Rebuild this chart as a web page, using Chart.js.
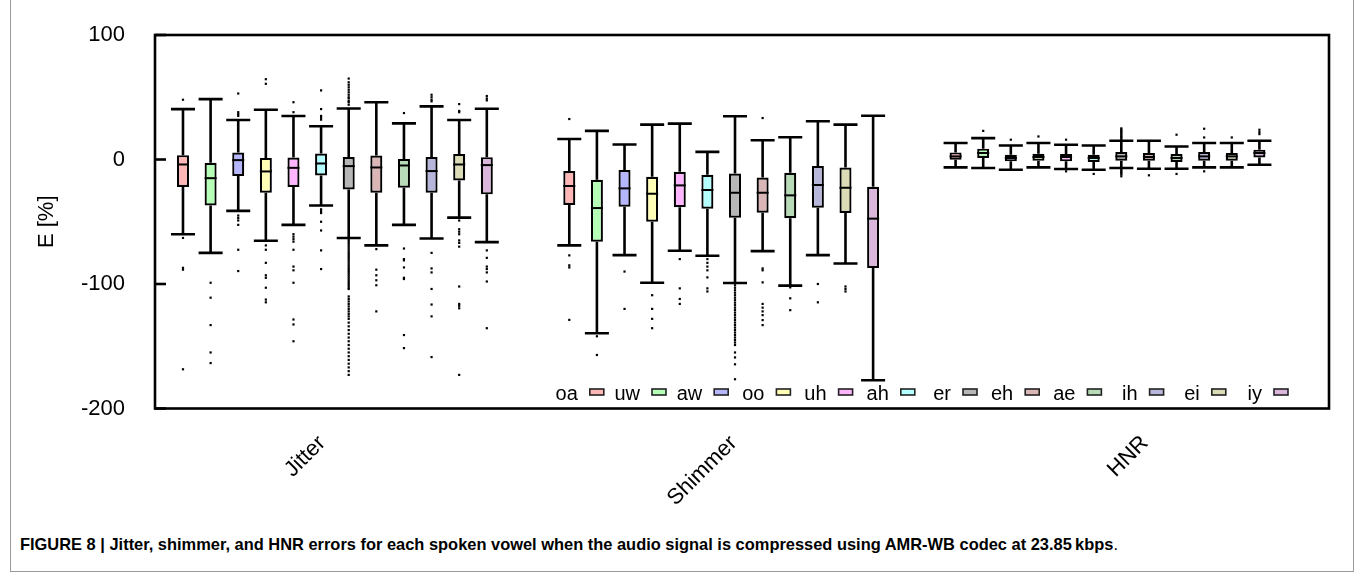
<!DOCTYPE html>
<html><head><meta charset="utf-8">
<script src="https://cdn.jsdelivr.net/npm/chart.js@4.4.0/dist/chart.umd.min.js"></script>
<style>
html,body{margin:0;padding:0;background:#fff;}
#wrap{position:relative;width:1355px;height:572px;overflow:hidden;background:#fff;}
#frame{position:absolute;left:10px;top:-1px;width:1344px;height:573px;border:1px solid #9a9a9a;box-sizing:border-box;}
#c{position:absolute;left:0;top:0;}
#cap{position:absolute;left:20px;top:535px;font-family:'Liberation Sans Narrow','Liberation Sans',Arial,sans-serif;font-size:17px;line-height:20px;white-space:nowrap;transform-origin:0 0;color:#000;}
</style></head>
<body><div id="wrap"><div id="frame"></div><canvas id="c" width="1355" height="525"></canvas>
<div id="cap"><b>FIGURE 8 | Jitter, shimmer, and HNR errors for each spoken vowel when the audio signal is compressed using AMR-WB codec at 23.85&#8201;kbps</b>.</div></div>
<script>
const groups = ['Jitter', 'Shimmer', 'HNR'];
const vowels = ['oa','uw','aw','oo','uh','ah','er','eh','ae','ih','ei','iy'];
const yTicks = [-200, -100, 0, 100];

// [lower whisker, q1, median, q3, upper whisker] per vowel
const jitterStats = [
  [-60, -22, -4, 3.5, 40.5],
  [-75, -37, -15, -2.7, 48.5],
  [-41.3, -13.3, -0.5, 5.6, 31.7],
  [-65.3, -26.7, -9.6, 1.3, 40],
  [-52.5, -22, -6.7, 1.6, 35],
  [-37, -12.8, -3.2, 4.8, 26.7],
  [-63, -24, -5.3, 2, 41],
  [-69, -26.7, -6.4, 3.2, 46],
  [-52.5, -22.7, -4.8, 0.5, 29],
  [-63.5, -26.7, -9.3, 2, 42.7],
  [-46.7, -16.8, -4, 4.5, 31.7],
  [-66.4, -28, -4.5, 1.9, 40.8]
];
const shimmerStats = [
  [-69, -36.5, -21.3, -9.3, 16.5],
  [-139.5, -66, -39, -16.3, 23],
  [-76.8, -37.9, -23.2, -8.5, 12],
  [-99, -50, -27.5, -13.9, 28],
  [-73.3, -38.4, -20.8, -9.9, 28.8],
  [-77.3, -39.5, -24.5, -12.3, 6.1],
  [-99.2, -46.7, -26.7, -11.2, 34.7],
  [-73.6, -42.7, -26.7, -14.4, 15.5],
  [-101.3, -47.2, -28.8, -10.7, 17.9],
  [-76.8, -38.7, -20.5, -5.3, 30.7],
  [-83.5, -42.9, -22.7, -6.4, 28],
  [-177.3, -87.2, -47.5, -21.9, 35.2]
];
const hnrStats = [
  [-6.3, -0.2, 2.5, 5.7, 13.2],
  [-6.8, 1.2, 5.2, 8.7, 17.2],
  [-8.2, -1.5, 1.2, 3.8, 11.3],
  [-6.3, -1, 2, 4.6, 13.2],
  [-7.6, -1.5, 2, 4.4, 11.9],
  [-8.2, -2, 1.2, 3.8, 11.3],
  [-6.8, -1, 2.5, 6, 15.1],
  [-7.4, -1, 2, 5.2, 15.1],
  [-7.4, -2, 1.2, 4.4, 10.5],
  [-6.3, -1, 2.5, 6, 13.2],
  [-6.3, -1, 2.5, 5.2, 13.2],
  [-4.2, 1.7, 5.2, 7.9, 15.1]
];

const jitterOutliers = [
  [48, -63, -87, -88.5, -168.5],
  [-99, -111, -133, -155, -163.5],
  [53, 38, 36.5, 35, -45, -47, -49, -52.5, -72.5, -89.6],
  [64.5, 60.8, -69, -72.5, -83, -93, -95, -103, -112.5, -114.7],
  [46, 38, -60, -62, -64, -66, -72.5, -86, -89, -99, -128.5, -132.5, -146],
  [55.5, 40.5, 35, 33.5, 32, -40, -41.5, -43, -50, -57, -73, -88],
  [44, 46, 47, 49, 50, 52, 54, 56, 58, 60, 62, 65,
   -64, -65.5, -67, -68.5, -70, -71.5, -73, -74.5, -76, -77.5, -79, -80.5, -82, -83.5, -85, -86.5,
   -88, -89.5, -91, -92.5, -94, -95.5, -97, -98.5, -100, -101.5, -103, -104,
   -110, -112, -114, -116, -118, -120, -122, -124, -126, -128, -131, -134, -137, -140, -143,
   -146, -149, -152, -155, -158, -161, -164, -167, -170, -173],
  [-72, -88.5, -93, -97, -101, -122],
  [37.3, -71.5, -80, -81, -86.7, -95, -96, -141, -151.5],
  [52, 50, 48, 46.7, -75, -87.5, -90.7, -104, -116.5, -126, -158.7],
  [44.5, 39, 38, -49, -56, -58, -60, -65, -67, -70, -102, -116, -117.5, -119.5, -173],
  [51, 49, 47.5, -73, -79, -86, -88, -90.7, -98, -135.5]
];
const shimmerOutliers = [
  [32.5, -77, -85, -86.7, -128.8],
  [-142, -157],
  [-90, -120],
  [-109, -120, -128, -135.5],
  [-80, -103.5, -112, -116],
  [-80, -83, -86, -89, -94.7, -103.5, -106],
  [-101, -103, -105, -107, -109, -111, -113, -115, -117, -119, -121, -123, -125, -127, -129,
   -131, -133, -135, -137, -139, -141, -143, -145, -147, -149, -155, -159, -164.5, -176.5],
  [33.3, -87.5, -89, -98.7, -116, -119, -122, -125, -129, -133],
  [-102.7, -111.5, -121],
  [-100, -114.7],
  [-102, -104, -106],
  []
];
const hnrOutliers = [
  [],
  [23],
  [15.9],
  [18.5],
  [15.9, -9.5],
  [-11.6],
  [16, 17, 18, 19, 20, 21, 22, 23, 24, 25, -8, -9, -10, -11, -12, -13.5],
  [-12.7],
  [19.9, -11.6],
  [24.7, 17.7, -9.5],
  [17.7],
  [20.4, 22, 23.9]
];

const statsByGroup = [jitterStats, shimmerStats, hnrStats];
const outliersByGroup = [jitterOutliers, shimmerOutliers, hnrOutliers];
const colors = ['#ffb6b6','#b6ffb6','#b6b6ff','#ffffb6','#ffb6ff','#b6ffff',
                '#b6b6b6','#dbb6b6','#b6dbb6','#b6b6db','#dbdbb6','#dbb6db'];

const FONT = "'Liberation Sans', Arial, Helvetica, sans-serif";

const datasets = vowels.map((v, i) => ({
  label: v,
  xAxisID: 'x',
  yAxisID: 'y',
  data: groups.map((g, j) => ({ x: j + 1, y: [statsByGroup[j][i][1], statsByGroup[j][i][3]] })),
  backgroundColor: colors[i],
  borderColor: '#000',
  borderWidth: 2.2,
  borderSkipped: false
}));

const boxPlugin = {
  id: 'boxExtras',
  beforeDatasetsDraw(chart) {
    const ctx = chart.ctx, y = chart.scales.y;
    ctx.save();
    ctx.strokeStyle = '#000';
    ctx.lineWidth = 2.6;
    ctx.lineCap = 'butt';
    chart.data.datasets.forEach((ds, i) => {
      const meta = chart.getDatasetMeta(i);
      meta.data.forEach((bar, j) => {
        const s = statsByGroup[j][i];
        const cw = bar.width * 2.0;
        const x = bar.x;
        ctx.beginPath();
        ctx.moveTo(x, y.getPixelForValue(s[4])); ctx.lineTo(x, y.getPixelForValue(s[3]));
        ctx.moveTo(x, y.getPixelForValue(s[1])); ctx.lineTo(x, y.getPixelForValue(s[0]));
        ctx.moveTo(x - cw / 2, y.getPixelForValue(s[4])); ctx.lineTo(x + cw / 2, y.getPixelForValue(s[4]));
        ctx.moveTo(x - cw / 2, y.getPixelForValue(s[0])); ctx.lineTo(x + cw / 2, y.getPixelForValue(s[0]));
        ctx.stroke();
        ctx.fillStyle = '#000';
        outliersByGroup[j][i].forEach(v => {
          const py = y.getPixelForValue(v);
          ctx.fillRect(x - 1.1, py - 1.1, 2.2, 2.2);
        });
      });
    });
    ctx.restore();
  },
  afterDatasetsDraw(chart) {
    const ctx = chart.ctx, y = chart.scales.y, a = chart.chartArea;
    ctx.save();
    ctx.strokeStyle = '#000';
    ctx.lineWidth = 2;
    chart.data.datasets.forEach((ds, i) => {
      const meta = chart.getDatasetMeta(i);
      meta.data.forEach((bar, j) => {
        const s = statsByGroup[j][i];
        const py = y.getPixelForValue(s[2]);
        ctx.beginPath();
        ctx.moveTo(bar.x - bar.width / 2, py); ctx.lineTo(bar.x + bar.width / 2, py);
        ctx.stroke();
      });
    });
    // frame
    ctx.lineWidth = 2.6;
    ctx.strokeRect(a.left, a.top, a.right - a.left, a.bottom - a.top);
    // inward ticks on the value axis
    yTicks.forEach(t => {
      const py = y.getPixelForValue(t);
      ctx.beginPath();
      ctx.moveTo(a.left, py); ctx.lineTo(a.left + 11, py);
      ctx.stroke();
    });
    // legend: label then sample box
    ctx.font = '20px ' + FONT;
    ctx.textAlign = 'right';
    ctx.textBaseline = 'middle';
    const step = 62.2;
    vowels.forEach((v, i) => {
      const boxRight = a.right - 41 - (vowels.length - 1 - i) * step;
      const boxLeft = boxRight - 14;
      const cy = a.bottom - 16.5;
      ctx.fillStyle = colors[i];
      ctx.fillRect(boxLeft, cy - 3, 14, 6);
      ctx.lineWidth = 1.6;
      ctx.strokeStyle = '#222';
      ctx.strokeRect(boxLeft, cy - 3, 14, 6);
      ctx.fillStyle = '#000';
      ctx.fillText(v, boxLeft - 12, cy + 2);
    });
    ctx.restore();
  }
};

const fixedTicks = s => { s.ticks = groups.map((g, i) => ({ value: i + 1 })); };

new Chart(document.getElementById('c'), {
  type: 'bar',
  data: { datasets },
  options: {
    responsive: false,
    animation: false,
    devicePixelRatio: 1,
    layout: { padding: { left: 0, right: 26, top: 35, bottom: 0 } },
    plugins: { legend: { display: false }, tooltip: { enabled: false } },
    datasets: { bar: { categoryPercentage: 0.858, barPercentage: 0.435 } },
    scales: {
      x: {
        type: 'linear', display: false, offset: false, min: 0.5343, max: 3.5734,
        grid: { offset: false },
        afterBuildTicks: fixedTicks
      },
      x2: {
        type: 'linear', position: 'bottom', offset: false, min: 0.594, max: 3.447,
        afterBuildTicks: fixedTicks,
        afterFit: s => { s.height = 525 - 408.5; },
        grid: { display: false, drawTicks: false, offset: false },
        border: { display: false },
        ticks: {
          autoSkip: false, minRotation: 45, maxRotation: 45, padding: 22,
          color: '#000', font: { family: FONT, size: 22 },
          callback: v => groups[Math.round(v) - 1]
        }
      },
      y: {
        min: -200, max: 100,
        afterBuildTicks: s => { s.ticks = yTicks.map(v => ({ value: v })); },
        afterFit: s => { s.width = 155; },
        grid: { display: false, drawTicks: true, tickLength: 30 },
        border: { display: false },
        ticks: { padding: 0, color: '#000', font: { family: FONT, size: 22 } },
        title: { display: true, text: 'E [%]', color: '#000', font: { family: FONT, size: 22 }, padding: { top: 34, bottom: 0 } }
      }
    }
  },
  plugins: [boxPlugin]
});

const cap = document.getElementById('cap');
const w = cap.getBoundingClientRect().width;
cap.style.transform = 'scaleX(' + (1098 / w) + ')';
</script>
</body></html>
